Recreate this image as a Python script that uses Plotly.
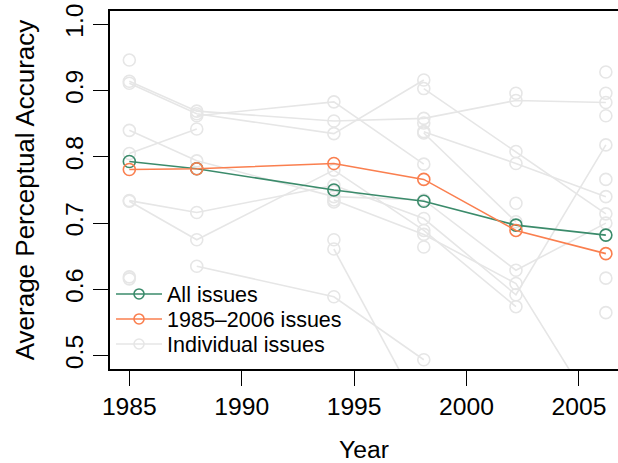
import plotly.graph_objects as go

# Survey years (positions)
years = [1985, 1988, 1994.1, 1998.1, 2002.2, 2006.2]

# Aggregate series
all_issues = [0.793, 0.782, 0.750, 0.733, 0.697, 0.682]
issues_1985_2006 = [0.781, 0.782, 0.790, 0.766, 0.689, 0.654]

# Individual issues (None = issue not asked that year)
issue_a = [0.914, 0.869, 0.854, 0.858, 0.885, 0.882]
issue_b = [0.911, 0.865, 0.835, 0.916, None, None]
issue_c = [None, 0.862, 0.883, 0.789, None, None]
issue_d = [0.840, 0.794, 0.740, 0.735, 0.629, 0.700]
issue_e = [0.805, 0.842, None, None, None, None]
issue_f = [0.734, 0.716, 0.757, 0.707, 0.592, 0.818]
issue_g = [0.733, 0.675, 0.780, 0.689, 0.574, None]
issue_h = [None, 0.635, 0.589, 0.494, None, None]
issue_i = [None, None, 0.661, 0.410, None, None]
issue_j = [None, None, None, 0.903, 0.808, 0.714]
issue_k = [None, None, None, 0.838, 0.790, 0.740]
issue_l = [None, None, None, 0.836, 0.702, None]
issue_m = [None, None, 0.735, 0.683, 0.609, 0.390]
issue_n = [0.946, None, 0.732, 0.851, 0.896, 0.928]
issue_o = [0.619, None, 0.675, 0.664, 0.730, 0.896]
issue_p = [0.616, None, None, None, None, 0.862]
issue_q = [None, None, None, None, None, 0.766]
issue_r = [None, None, None, None, None, 0.617]
issue_s = [None, None, None, None, None, 0.565]

joined = [issue_a, issue_b, issue_c, issue_d, issue_e, issue_f, issue_g,
          issue_h, issue_i, issue_j, issue_k, issue_l, issue_m]
isolated = [issue_n, issue_o, issue_p, issue_q, issue_r, issue_s]

x_ticks = [1985, 1990, 1995, 2000, 2005]
y_ticks = [0.5, 0.6, 0.7, 0.8, 0.9, 1.0]
y_tick_text = ["0.5", "0.6", "0.7", "0.8", "0.9", "1.0"]

legend_names = ["All issues", "1985\u20132006 issues", "Individual issues"]

GREEN = "#3B8B6B"
ORANGE = "#FA7F4F"
GRAY = "#E6E6E6"
FONT = "Liberation Sans, Arial, Helvetica, sans-serif"
FS = 24.7

fig = go.Figure()

for iss in joined:
    fig.add_trace(go.Scatter(
        x=years, y=iss, mode="lines+markers", showlegend=False, hoverinfo="skip",
        line=dict(color=GRAY, width=1.6),
        marker=dict(symbol="circle-open", size=12, color=GRAY, line=dict(width=1.6)),
    ))
for iss in isolated:
    fig.add_trace(go.Scatter(
        x=years, y=iss, mode="markers", showlegend=False, hoverinfo="skip",
        marker=dict(symbol="circle-open", size=12, color=GRAY, line=dict(width=1.6)),
    ))

fig.add_trace(go.Scatter(
    x=years, y=all_issues, mode="lines+markers", showlegend=False,
    line=dict(color=GREEN, width=1.6),
    marker=dict(symbol="circle-open", size=12, color=GREEN, line=dict(width=1.6)),
))
fig.add_trace(go.Scatter(
    x=years, y=issues_1985_2006, mode="lines+markers", showlegend=False,
    line=dict(color=ORANGE, width=1.6),
    marker=dict(symbol="circle-open", size=12, color=ORANGE, line=dict(width=1.6)),
))

# legend entries, each in its own legend so the row spacing can match
legend_ids = ["legend", "legend2", "legend3"]
for name, col, lid in zip(legend_names, [GREEN, ORANGE, GRAY], legend_ids):
    fig.add_trace(go.Scatter(
        x=[None], y=[None], mode="lines+markers", name=name, legend=lid,
        line=dict(color=col, width=1.6),
        marker=dict(symbol="circle-open", size=10, color=col, line=dict(width=1.6)),
    ))

legend_common = dict(x=0.002, xanchor="left", yanchor="middle",
                     bgcolor="rgba(0,0,0,0)", font=dict(size=21.5),
                     itemwidth=46)

fig.update_layout(
    width=618, height=463,
    margin=dict(l=110, r=0, t=11, b=94),
    paper_bgcolor="white", plot_bgcolor="white",
    font=dict(family=FONT, size=FS, color="black"),
    showlegend=True,
    legend=dict(y=0.2095, **legend_common),
    legend2=dict(y=0.1397, **legend_common),
    legend3=dict(y=0.0698, **legend_common),
    xaxis=dict(
        range=[1984.14, 2006.74], tickvals=x_ticks,
        ticks="outside", ticklen=15, tickwidth=1.3, tickcolor="black",
        showline=True, linecolor="black", linewidth=1.6, mirror=True,
        showgrid=False, zeroline=False, automargin=False,
        tickfont=dict(size=FS),
        title=dict(text="Year", standoff=26, font=dict(size=FS)),
    ),
    yaxis=dict(
        range=[0.48, 1.02], tickvals=y_ticks, ticktext=y_tick_text, tickangle=-90,
        ticks="outside", ticklen=15, tickwidth=1.3, tickcolor="black",
        showline=True, linecolor="black", linewidth=1.6,
        showgrid=False, zeroline=False, automargin=False,
        tickfont=dict(size=FS),
        title=dict(text="Average Perceptual Accuracy", standoff=19, font=dict(size=26)),
    ),
)

fig.write_html("out.html", config={"displayModeBar": False},
               post_script="document.body.style.margin='0px';")
